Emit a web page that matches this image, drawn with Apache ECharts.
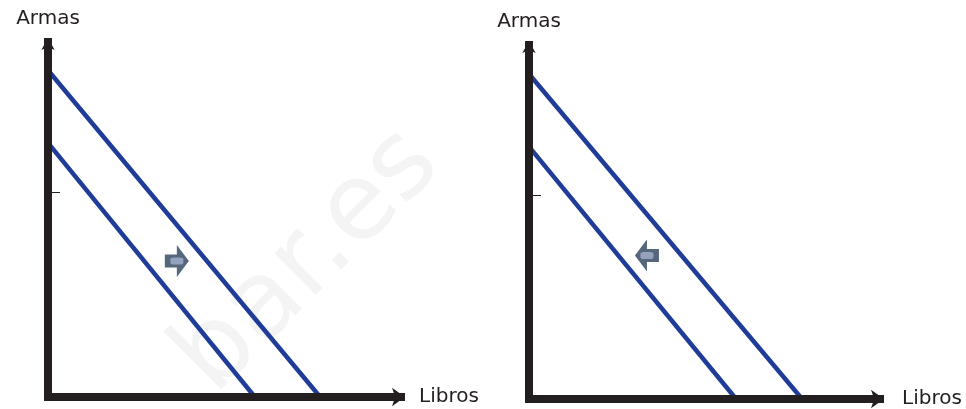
<!DOCTYPE html>
<html>
<head>
<meta charset="utf-8">
<script src="https://cdn.jsdelivr.net/npm/echarts@6/dist/echarts.min.js"></script>
<style>
html,body{margin:0;padding:0;background:#fff;}
#chart{width:966px;height:409px;}
</style>
</head>
<body>
<div id="chart"></div>
<script>
// ---- data ----
const axisNameX = 'Libros';
const axisNameY = 'Armas';
const axisMax = [100, 100];           // [x max, y max]
const yTickValues = [57];
// budget lines as [x, y] endpoints
const leftOuterLine = [[0, 91], [77.1, 0]];
const leftInnerLine = [[0, 70.8], [58.6, 0]];
const rightOuterLine = [[0, 90.8], [77.8, 0]];
const rightInnerLine = [[0, 70.5], [59.0, 0]];
// shift arrows [x, y]
const leftArrow = [[36.5, 37.9]];
const rightArrow = [[33.6, 40.1]];
const watermarkText = 'bar.es';

const AX = '#231f20';
const BLUE = '#1f3c98';
const ARROW = '#56667b';
const ARROW_HI = '#95a2bf';
const FONT = 'DejaVu Sans';
const arrowPath = 'path://M0,9.5 L12,9.5 L12,0 L24,16 L12,32 L12,22.5 L0,22.5 Z';

function xAx(i, gap) {
  return {
    type: 'value', gridIndex: i, min: 0, max: axisMax[0], z: 5,
    name: axisNameX, nameLocation: 'end', nameGap: gap,
    nameTextStyle: {fontSize: 20, color: AX, fontFamily: FONT, verticalAlign: 'middle'},
    axisLine: {show: true, symbol: ['none', 'arrow'], symbolSize: [14, 13], symbolOffset: [0, 4],
      lineStyle: {color: AX, width: 8, cap: 'square'}},
    axisTick: {show: false}, axisLabel: {show: false}, splitLine: {show: false}
  };
}
function yAx(i, gap) {
  return {
    type: 'value', gridIndex: i, min: 0, max: axisMax[1], z: 5,
    name: axisNameY, nameLocation: 'end', nameGap: gap,
    nameTextStyle: {fontSize: 20, color: AX, fontFamily: FONT},
    axisLine: {show: true, symbol: ['none', 'arrow'], symbolSize: [10, 12], lineStyle: {color: AX, width: 8, cap: 'butt'}},
    axisTick: {show: true, inside: true, length: 12, customValues: yTickValues, lineStyle: {color: AX, width: 1}},
    axisLabel: {show: false}, splitLine: {show: false}
  };
}
function lineS(i, data) {
  return {type: 'line', xAxisIndex: i, yAxisIndex: i, data: data, showSymbol: false, silent: true,
    lineStyle: {color: BLUE, width: 4.5}, z: 2};
}
function arrowS(i, data, rot) {
  return [
    {type: 'scatter', xAxisIndex: i, yAxisIndex: i, data: data, symbol: arrowPath, symbolSize: [24, 32],
     symbolRotate: rot, itemStyle: {color: ARROW, opacity: 1}, z: 3, silent: true},
    {type: 'scatter', xAxisIndex: i, yAxisIndex: i, data: data, symbol: 'roundRect', symbolSize: [13, 7],
     itemStyle: {color: ARROW_HI, opacity: 1}, z: 4, silent: true}
  ];
}

const chart = echarts.init(document.getElementById('chart'), null, {renderer: 'canvas'});
chart.setOption({
  animation: false,
  backgroundColor: '#fff',
  graphic: [{
    type: 'text', x: 309, y: 262, rotation: Math.PI / 4, z: -10, silent: true,
    style: {text: watermarkText, fontSize: 107, fontFamily: FONT, fill: '#f4f4f4', align: 'center', verticalAlign: 'middle'}
  }],
  grid: [
    {left: 48, top: 38, width: 353, height: 359},
    {left: 529, top: 41, width: 351, height: 359}
  ],
  xAxis: [xAx(0, 18), xAx(1, 22)],
  yAxis: [yAx(0, 9), yAx(1, 9)],
  series: [
    lineS(0, leftOuterLine), lineS(0, leftInnerLine),
    lineS(1, rightOuterLine), lineS(1, rightInnerLine),
    ...arrowS(0, leftArrow, 0),
    ...arrowS(1, rightArrow, 180)
  ]
});
</script>
</body>
</html>
